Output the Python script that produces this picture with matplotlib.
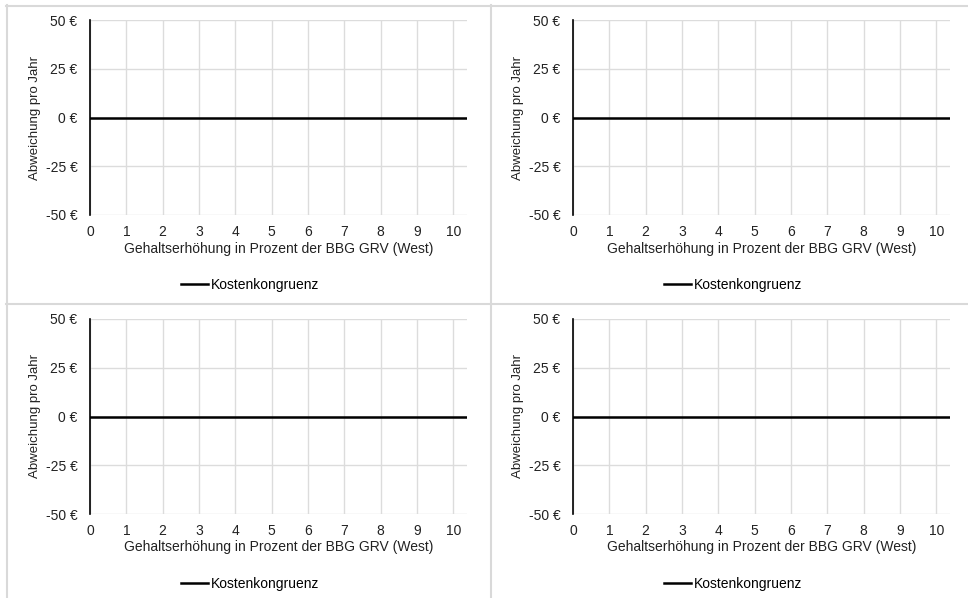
import matplotlib.pyplot as plt
from matplotlib.lines import Line2D

plt.rcParams['font.family'] = ['Liberation Sans', 'DejaVu Sans']

# chart data
x_vals = [0, 1, 2, 3, 4, 5, 6, 7, 8, 9, 10, 10.35]
kongruenz = [0, 0, 0, 0, 0, 0, 0, 0, 0, 0, 0, 0]
x_ticks = [0, 1, 2, 3, 4, 5, 6, 7, 8, 9, 10]
y_ticks = [-50, -25, 0, 25, 50]
y_labels = ['-50 €', '-25 €', '0 €', '25 €', '50 €']
series_name = 'Kostenkongruenz'
xlabel = 'Gehaltserhöhung in Prozent der BBG GRV (West)'
ylabel = 'Abweichung pro Jahr'

W, H = 968, 598
fig = plt.figure(figsize=(W / 100, H / 100), dpi=100)

def px_rect(x0, y0, x1, y1):
    return [x0 / W, 1 - y1 / H, (x1 - x0) / W, (y1 - y0) / H]

# panel origins (axes left, top) and panel centre for legend
panels = [(90, 20, 250), (573, 20, 733), (90, 319, 250), (573, 319, 733)]
legend_y = [285, 285, 584, 584]

for (ax_x, ax_y, cx), ly in zip(panels, legend_y):
    ax = fig.add_axes(px_rect(ax_x, ax_y, ax_x + 377, ax_y + 195))
    ax.plot(x_vals, kongruenz, color='black', lw=1.8, label=series_name, zorder=3)
    ax.set_xlim(0, 10.38)
    ax.set_ylim(-50, 50)
    ax.set_xticks(x_ticks)
    ax.set_yticks(y_ticks)
    ax.set_yticklabels(y_labels)
    ax.grid(True, color='#dcdcdc', lw=1.0)
    ax.set_axisbelow(True)
    for s in ['top', 'right', 'bottom']:
        ax.spines[s].set_visible(False)
    ax.spines['left'].set_color('black')
    ax.spines['left'].set_linewidth(1.2)
    ax.tick_params(length=0, labelsize=10, colors='#222222')
    ax.tick_params(axis='y', pad=9)
    ax.tick_params(axis='x', pad=7)
    ax.set_xlabel(xlabel, fontsize=10, color='#222222', labelpad=2)
    ax.set_ylabel(ylabel, fontsize=9.5, color='#222222', labelpad=3)
    fig.legend(handles=[Line2D([0], [0], color='black', lw=1.8)], labels=[series_name],
               loc='center', bbox_to_anchor=(cx / W, 1 - ly / H), frameon=False,
               fontsize=10, handlelength=2.0, handletextpad=0.2)

# panel borders
border = dict(color='#d9d9d9', lw=1.5, transform=fig.transFigure)
def hline(y, x0, x1):
    fig.add_artist(Line2D([x0 / W, x1 / W], [1 - y / H, 1 - y / H], **border))
def vline(x, y0, y1):
    fig.add_artist(Line2D([x / W, x / W], [1 - y0 / H, 1 - y1 / H], **border))

hline(5.5, 6, 968)
hline(303.5, 6, 968)
vline(6.5, 5, 598)
vline(490.5, 5, 598)

fig.savefig('out.png', dpi=100, facecolor='white')
